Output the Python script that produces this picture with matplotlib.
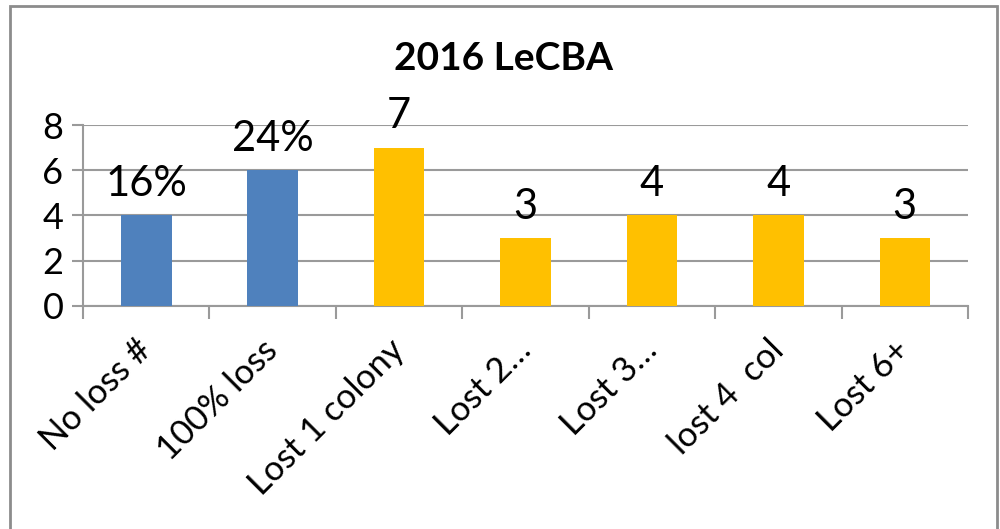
import matplotlib.pyplot as plt
from matplotlib.patches import Rectangle
import matplotlib.transforms as mtransforms
import numpy as np

categories = ["No loss #", "100% loss", "Lost 1 colony", "Lost 2\u2026", "Lost 3\u2026", "lost 4  col", "Lost 6+"]
values = [4, 6, 7, 3, 4, 4, 3]
labels = ["16%", "24%", "7", "3", "4", "4", "3"]
colors = ["#4F81BD", "#4F81BD", "#FFC000", "#FFC000", "#FFC000", "#FFC000", "#FFC000"]
yticks = [0, 2, 4, 6, 8]

plt.rcParams['font.family'] = ['Lato', 'DejaVu Sans']
grid_c = "#9a9a9a"

fig = plt.figure(figsize=(10, 5.29), dpi=100)
ax = fig.add_axes([0.083, 0.4216, 0.885, 0.3421])

x = np.arange(len(categories))
bars = ax.bar(x, values, width=0.4, color=colors, zorder=3)

for b, lab in zip(bars, labels):
    ax.annotate(lab, (b.get_x() + b.get_width() / 2, b.get_height()),
                xytext=(0, 9), textcoords="offset points",
                ha="center", va="bottom", fontsize=30, zorder=4)

ax.set_xlim(-0.5, len(categories) - 0.5)
ax.set_ylim(0, 8)
ax.set_yticks(yticks)
ax.set_yticklabels([str(t) for t in yticks], fontsize=26)
ax.yaxis.grid(True, color=grid_c, linewidth=1.5, zorder=0)

ax.set_xticks(x)
ax.set_xticklabels(categories, rotation=45, ha="right", va="top",
                   rotation_mode="anchor", fontsize=25)
ax.tick_params(axis="x", which="major", length=0, pad=20)
shift = mtransforms.ScaledTranslation(-8 / 72, 0, fig.dpi_scale_trans)
for t in ax.get_xticklabels():
    t.set_transform(t.get_transform() + shift)
ax.set_xticks(np.arange(-0.5, len(categories)), minor=True)
ax.tick_params(axis="x", which="minor", length=9, width=1.5, color=grid_c)
ax.tick_params(axis="y", length=8, width=1.5, color=grid_c, pad=6)

for s in ["top", "right"]:
    ax.spines[s].set_visible(False)
for s in ["left", "bottom"]:
    ax.spines[s].set_color(grid_c)
    ax.spines[s].set_linewidth(1.5)

fig.text(0.503, 0.89, "2016 LeCBA", ha="center", va="center",
         fontsize=28, fontweight="bold")

fig.patches.append(Rectangle((0.010, -0.05), 0.987, 1.038, transform=fig.transFigure,
                             fill=False, edgecolor="#8c8c8c", linewidth=2))

fig.savefig("out.png", dpi=100)
